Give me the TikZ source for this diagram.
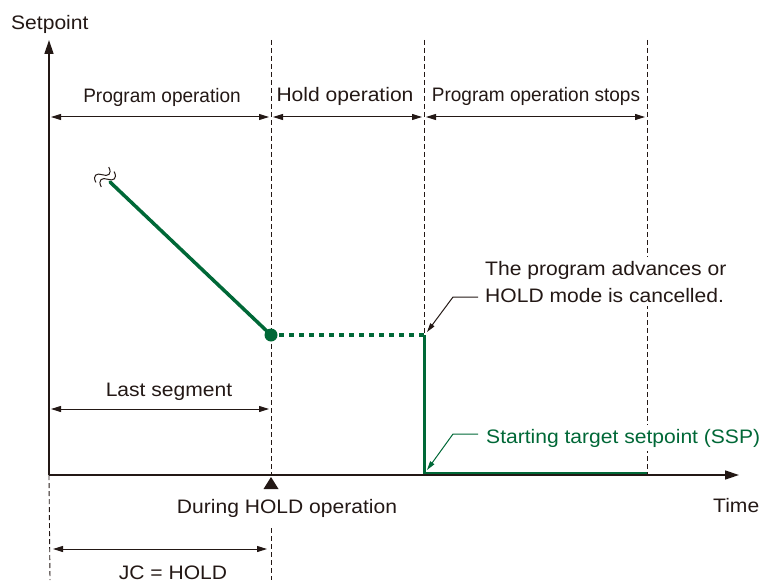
\documentclass[tikz,border=0pt]{standalone}
\usepackage{fontspec}
\setmainfont{Liberation Sans}
\newfontfamily\widesans[FakeStretch=1.08]{Liberation Sans}
\newfontfamily\narrowsans[FakeStretch=0.975]{Liberation Sans}
\usetikzlibrary{arrows.meta}
\definecolor{grn}{RGB}{0,104,55}
\definecolor{ink}{RGB}{35,24,21}
\begin{document}
\begin{tikzpicture}[x=1pt,y=-1pt,
  lbl/.style={font=\widesans\fontsize{19.5}{27}\selectfont, text=ink, inner sep=0pt},
  nlbl/.style={font=\narrowsans\fontsize{19.5}{27}\selectfont, text=ink, inner sep=0pt},
  glbl/.style={font=\widesans\fontsize{19.5}{27}\selectfont, text=grn, inner sep=0pt},
  guide/.style={draw=ink, line width=0.9pt, dash pattern=on 5pt off 3pt},
  axisline/.style={draw=ink, line width=1.4pt, -{Triangle[length=14pt,width=9pt]}},
  span/.style={draw=ink, line width=1pt, {Triangle[length=10pt,width=6pt]}-{Triangle[length=10pt,width=6pt]}},
  leader/.style={draw=ink, line width=1pt, -{Triangle[length=9pt,width=5pt]}},
  gleader/.style={draw=grn, line width=1pt, -{Triangle[length=9pt,width=5pt]}},
  trend/.style={draw=grn, line width=3.5pt},
  holdline/.style={draw=grn, line width=4.5pt, dash pattern=on 5pt off 5pt},
  brk/.style={draw=ink, line width=1pt},
]
\useasboundingbox (0,0) rectangle (767,580);

% key coordinates
\coordinate (O) at (49,475);
\coordinate (Ytop) at (49,40);
\coordinate (Xend) at (739,475);
\coordinate (Bt) at (271,40);
\coordinate (Bax) at (271,475);
\coordinate (Bb) at (271,580);
\coordinate (Bl) at (271,528);
\coordinate (Ct) at (424,40);
\coordinate (Dt) at (647,40);
\coordinate (Dax) at (647,475);
\coordinate (Lb) at (50,580);
\coordinate (Start) at (110,182);
\coordinate (Hold) at (271,335);
\coordinate (Adv) at (424,335);
\coordinate (SSPc) at (424,473);
\coordinate (SSPe) at (647,473);

% guide lines
\draw[guide] (Bt) -- (Bax);
\draw[guide] (Bl) -- (Bb);
\draw[guide] (Ct) -- (Adv);
\draw[guide] (Dt) -- (Dax);
\draw[guide] (O) -- (Lb);

% span arrows
\coordinate (s1a) at (51,117); \coordinate (s1b) at (269,117);
\coordinate (s2a) at (273,117); \coordinate (s2b) at (422,117);
\coordinate (s3a) at (426,117); \coordinate (s3b) at (645,117);
\draw[span] (s1a) -- (s1b);
\draw[span] (s2a) -- (s2b);
\draw[span] (s3a) -- (s3b);
\coordinate (s4a) at (51,409); \coordinate (s4b) at (269,409);
\draw[span] (s4a) -- (s4b);
\coordinate (s5a) at (53,549); \coordinate (s5b) at (267,549);
\draw[span] (s5a) -- (s5b);

% setpoint trend
\draw[trend, line cap=round] (Start) -- (Hold);
\draw[holdline] ([xshift=8pt]Hold) -- (Adv);
\draw[trend, line width=3pt] (Adv) -- (SSPc) -- (SSPe);
\fill[grn] (Hold) circle (6.5pt);

% break mark
\begin{scope}[shift={(105,177)}, rotate=50]
  \draw[brk] (-10,-3.5) .. controls (-7,-11) and (-2,-9) .. (0,-3.5) .. controls (2,2) and (7,4) .. (10,-3.5);
  \draw[brk] (-10,3.5) .. controls (-7,-4) and (-2,-2) .. (0,3.5) .. controls (2,9) and (7,11) .. (10,3.5);
\end{scope}

% axes
\draw[axisline] (O) -- (Ytop);
\draw[axisline] (O) -- (Xend);

% triangle marker
\fill[ink] (271,477) -- (278.5,489) -- (263.5,489) -- cycle;

% labels
\node[lbl, anchor=base west] (ylab) at (11,30) {Setpoint};
\node[lbl, anchor=base west] (xlab) at (713,512) {Time};
\node[nlbl, anchor=base] (l1) at (162,103) {Program operation};
\node[lbl, anchor=base] (l2) at (345,102) {Hold operation};
\node[nlbl, anchor=base] (l3) at (536,102) {Program operation stops};
\node[lbl, anchor=base] (l4) at (169,396) {Last segment};
\node[lbl, anchor=base] (l5) at (287,513) {During HOLD operation};
\node[lbl, anchor=base] (l6) at (173,579) {JC = HOLD};

\node[lbl, anchor=base west, align=left, fill=white, inner xsep=1pt, inner ysep=4pt] (adv) at (484,302) {The program advances or\\HOLD mode is cancelled.};
\node[glbl, anchor=base west, fill=white, inner xsep=1pt, inner ysep=4pt] (ssp) at (485,443) {Starting target setpoint (SSP)};

% leaders
\coordinate (a1) at (478,297); \coordinate (a2) at (453,297); \coordinate (a3) at (427,332);
\draw[leader] (a1) -- (a2) -- (a3);
\coordinate (g1) at (478,434); \coordinate (g2) at (453,434); \coordinate (g3) at (427,470);
\draw[gleader] (g1) -- (g2) -- (g3);
\end{tikzpicture}
\end{document}
